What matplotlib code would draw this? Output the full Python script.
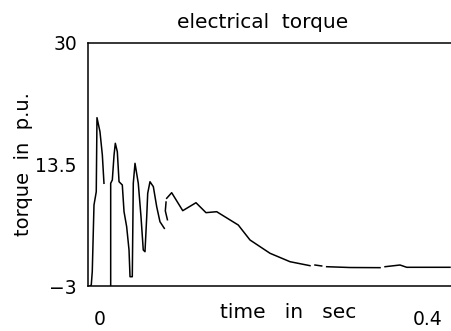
import matplotlib
matplotlib.use("Agg")
import matplotlib.pyplot as plt
import matplotlib.transforms as mtransforms

# torque trace; the plotter left small gaps, so it is in pieces
seg1_t = [0.0022, 0.0036, 0.0047, 0.0066, 0.0091, 0.0099, 0.0132, 0.0158, 0.0176]
seg1_v = [-3.0, -2.86, -1.06, 8.0, 9.8, 19.86, 17.95, 14.79, 10.95]

seg2_t = [0.0250, 0.0250, 0.0268, 0.0287, 0.0301, 0.0323, 0.0342, 0.0378, 0.0397,
          0.0426, 0.0452, 0.0463, 0.0488, 0.0499, 0.0518, 0.0554, 0.0584, 0.0609,
          0.0628, 0.0647, 0.0658, 0.0683, 0.0720, 0.0757, 0.0793, 0.0841]
seg2_v = [-3.0, 10.95, 11.4, 14.79, 16.38, 15.24, 11.16, 10.72, 7.09,
          5.05, 1.89, -1.74, -1.74, 10.95, 13.66, 10.95, 6.41, 1.89,
          1.66, 6.41, 9.59, 11.16, 10.49, 7.77, 5.73, 4.83]

seg3_t = [0.0860, 0.0852, 0.0875]
seg3_v = [8.4, 7.2, 6.0]

seg4_t = [0.0867, 0.0922, 0.1044, 0.1190, 0.1300, 0.1418, 0.1656, 0.1785,
          0.2006, 0.2226, 0.2446]
seg4_v = [8.91, 9.67, 7.23, 8.31, 6.96, 7.09, 5.28, 3.25, 1.44, 0.30, -0.24]

seg5_t = [0.2501, 0.2575]
seg5_v = [-0.15, -0.28]

seg6_t = [0.2630, 0.2887, 0.3218]
seg6_v = [-0.38, -0.49, -0.51]

seg7_t = [0.3273, 0.3438, 0.3512, 0.3989]
seg7_v = [-0.38, -0.15, -0.46, -0.46]

segments = [(seg1_t, seg1_v), (seg2_t, seg2_v), (seg3_t, seg3_v), (seg4_t, seg4_v),
            (seg5_t, seg5_v), (seg6_t, seg6_v), (seg7_t, seg7_v)]

y_ticks = [-3, 13.5, 30]
y_labels = ['\u22123', '13.5', '30']
x_ticks = [0, 0.4]
x_labels = ['0', '0.4']

plt.rcParams['font.family'] = ['DejaVu Sans']

fig = plt.figure(figsize=(4.51, 3.31), dpi=100)
ax = fig.add_axes([88 / 451, 1 - 286 / 331, 1 - 88 / 451, (286 - 43) / 331])

for t, v in segments:
    ax.plot(t, v, color='black', lw=1.1)

ax.set_xlim(0, 0.4)
ax.set_ylim(-3, 30)

for side in ['left', 'top', 'bottom']:
    ax.spines[side].set_linewidth(1.1)
ax.spines['right'].set_visible(False)

ax.set_yticks(y_ticks, y_labels, fontsize=13.5)
ax.set_xticks(x_ticks, x_labels, fontsize=13.5)
ax.tick_params(axis='y', length=0, pad=8)
ax.tick_params(axis='x', length=0, pad=17)

# the plotter put "0" a bit right of the axis and "0.4" inside the end
shifts = [12, -23]
for lab, dx in zip(ax.get_xticklabels(), shifts):
    lab.set_transform(lab.get_transform() +
                      mtransforms.ScaledTranslation(dx / 100, 0, fig.dpi_scale_trans))

ax.set_title('electrical  torque', fontsize=14.5, x=0.482, pad=11)
ax.set_xlabel('time   in   sec', fontsize=14.5)
ax.xaxis.set_label_coords(0.551, -0.072)
ax.set_ylabel('torque  in  p.u.', fontsize=14)
ax.yaxis.set_label_coords(-0.152, 0.5)

fig.savefig('out.png', dpi=100)
